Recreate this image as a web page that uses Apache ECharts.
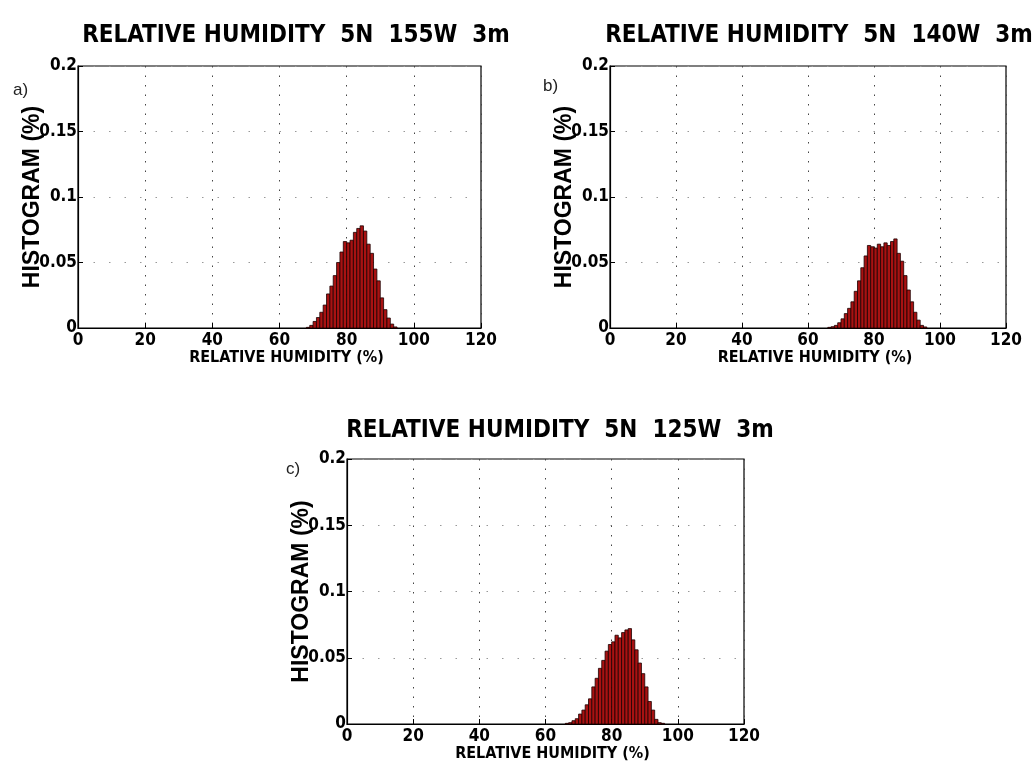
<!DOCTYPE html>
<html>
<head>
<meta charset="utf-8">
<script src="https://cdn.jsdelivr.net/npm/echarts@6/dist/echarts.min.js"></script>
<style>
  html, body { margin: 0; padding: 0; background: #fff; }
  #chart { width: 1035px; height: 773px; }
</style>
</head>
<body>
<div id="chart"></div>
<script>
// ---- data (relative humidity histograms, 1% bins, value = bin left edge) ----
const titles = [
  'RELATIVE HUMIDITY  5N  155W  3m',
  'RELATIVE HUMIDITY  5N  140W  3m',
  'RELATIVE HUMIDITY  5N  125W  3m'
];
const panelLabels = ['a)', 'b)', 'c)'];
const xTicks = [0, 20, 40, 60, 80, 100, 120];
const yTicks = [0, 0.05, 0.1, 0.15, 0.2];
const xName = 'RELATIVE HUMIDITY (%)';
const yName = 'HISTOGRAM (%)';
const binWidth = 1;

const binsA = [68,69,70,71,72,73,74,75,76,77,78,79,80,81,82,83,84,85,86,87,88,89,90,91,92,93,94];
const histA = [0.0005,0.002,0.005,0.008,0.012,0.0175,0.026,0.032,0.040,0.050,0.058,0.066,0.065,0.067,0.073,0.076,0.078,0.074,0.064,0.057,0.045,0.036,0.023,0.014,0.0076,0.003,0.0008];

const binsB = [66,67,68,69,70,71,72,73,74,75,76,77,78,79,80,81,82,83,84,85,86,87,88,89,90,91,92,93,94,95];
const histB = [0.0005,0.001,0.002,0.004,0.007,0.011,0.015,0.020,0.028,0.036,0.046,0.055,0.063,0.062,0.061,0.064,0.062,0.065,0.063,0.066,0.068,0.057,0.051,0.040,0.029,0.020,0.012,0.006,0.002,0.0008];

const binsC = [66,67,68,69,70,71,72,73,74,75,76,77,78,79,80,81,82,83,84,85,86,87,88,89,90,91,92,93,94,95];
const histC = [0.0005,0.001,0.0025,0.004,0.0075,0.0105,0.0145,0.019,0.028,0.0345,0.042,0.048,0.055,0.060,0.062,0.067,0.065,0.069,0.071,0.072,0.0635,0.056,0.046,0.038,0.028,0.017,0.0105,0.0035,0.001,0.0005];

// ---- layout ----
const grids = [
  { left: 78,  top: 66,  width: 403, height: 262 },
  { left: 610, top: 66,  width: 396, height: 262 },
  { left: 347, top: 459, width: 397, height: 265 }
];
const titlePos = [ { x: 291, y: 19 }, { x: 814, y: 19 }, { x: 555, y: 414 } ];
const labelPos = [ { x: 8, y: 77 }, { x: 538, y: 73 }, { x: 281, y: 456 } ];

const NARROW = '"Liberation Sans Narrow", "DejaVu Sans Condensed", "Arial Narrow", sans-serif';
const WIDE = '"Liberation Sans", Arial, sans-serif';

const allBins = [binsA, binsB, binsC];
const allHist = [histA, histB, histC];

function renderBar(params, api) {
  const p0 = api.coord([api.value(0), 0]);
  const p1 = api.coord([api.value(1), api.value(2)]);
  return {
    type: 'rect',
    shape: { x: p0[0], y: p1[1], width: p1[0] - p0[0], height: p0[1] - p1[1] },
    style: { fill: '#a81212', stroke: '#1a0000', lineWidth: 0.8 }
  };
}

const option = {
  backgroundColor: '#fff',
  animation: false,
  title: [
    ...titles.map((t, i) => ({
      text: t, left: titlePos[i].x, top: titlePos[i].y, textAlign: 'center',
      textStyle: { fontFamily: NARROW, fontSize: 24, fontWeight: 'bold', color: '#000' }
    })),
    ...panelLabels.map((t, i) => ({
      text: t, left: labelPos[i].x, top: labelPos[i].y,
      textStyle: { fontFamily: WIDE, fontSize: 17, fontWeight: 'normal', color: '#222' }
    }))
  ],
  grid: grids.map(g => Object.assign({ show: true, borderColor: '#000', borderWidth: 1.2, backgroundColor: '#fff' }, g)),
  xAxis: grids.map((g, i) => ({
    type: 'value', gridIndex: i, min: xTicks[0], max: xTicks[xTicks.length - 1], interval: 20,
    name: xName, nameLocation: 'middle', nameGap: 22, nameMoveOverlap: false,
    nameTextStyle: { fontFamily: NARROW, fontSize: 16, fontWeight: 'bold', color: '#000', padding: [0, 0, 0, 14] },
    axisLine: { show: true, onZero: false, lineStyle: { color: '#000', width: 1.2 } },
    axisTick: { show: true, inside: true, length: 5, lineStyle: { color: '#000' } },
    axisLabel: { fontFamily: NARROW, fontSize: 17, fontWeight: 'bold', color: '#000', margin: 4 },
    splitLine: { show: true, lineStyle: { color: '#444', type: [1.5, 8], width: 1 } }
  })),
  yAxis: grids.map((g, i) => ({
    type: 'value', gridIndex: i, min: yTicks[0], max: yTicks[yTicks.length - 1], interval: 0.05,
    name: yName, nameLocation: 'middle', nameGap: 34, nameRotate: 90, nameMoveOverlap: false,
    nameTextStyle: { fontFamily: WIDE, fontSize: 23, fontWeight: 'bold', color: '#000' },
    axisLine: { show: true, lineStyle: { color: '#000', width: 1.2 } },
    axisTick: { show: true, inside: true, length: 5, lineStyle: { color: '#000' } },
    axisLabel: { fontFamily: NARROW, fontSize: 17, fontWeight: 'bold', color: '#000', margin: 1 },
    splitLine: { show: true, lineStyle: { color: '#999', type: [1.5, 14], width: 1 } }
  })),
  series: allBins.map((bins, i) => ({
    type: 'custom', xAxisIndex: i, yAxisIndex: i,
    renderItem: renderBar,
    encode: { x: [0, 1], y: 2 },
    data: bins.map((b, j) => [b, b + binWidth, allHist[i][j]])
  }))
};

const chart = echarts.init(document.getElementById('chart'), null, { renderer: 'canvas' });
chart.setOption(option);
</script>
</body>
</html>
